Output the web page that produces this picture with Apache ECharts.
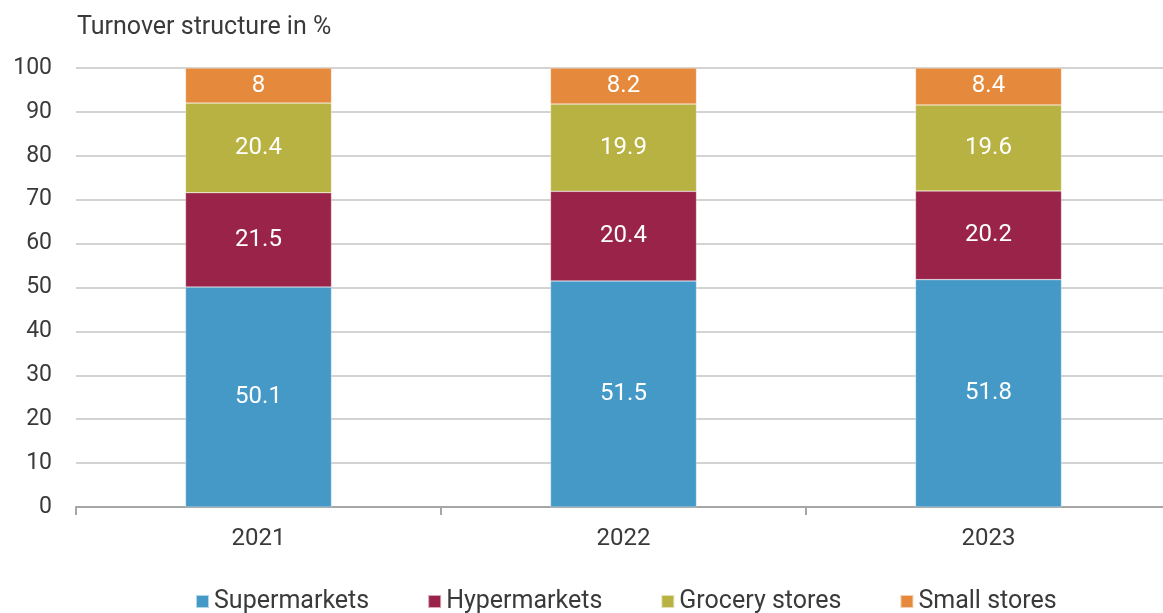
<!DOCTYPE html>
<html>
<head>
<meta charset="utf-8">
<script src="https://cdn.jsdelivr.net/npm/echarts@6/dist/echarts.min.js"></script>
<style>
  html, body { margin: 0; padding: 0; background: #fff; overflow: hidden; }
  #chart { width: 1171px; height: 613px; }
</style>
</head>
<body>
<div id="chart"></div>
<script>
const years = ['2021', '2022', '2023'];
const supermarkets = [50.1, 51.5, 51.8];
const hypermarkets = [21.5, 20.4, 20.2];
const groceryStores = [20.4, 19.9, 19.6];
const smallStores = [8, 8.2, 8.4];

const font = 'Roboto, sans-serif';
const chart = echarts.init(document.getElementById('chart'));

function barSeries(name, data, color) {
  return {
    name: name,
    type: 'bar',
    stack: 'total',
    barWidth: '40%',
    data: data,
    itemStyle: { color: color, borderColor: 'rgba(255,255,255,0.6)', borderWidth: 0.5 },
    label: {
      show: true,
      color: '#fff',
      fontFamily: font,
      fontSize: 24
    }
  };
}

chart.setOption({
  animation: false,
  textStyle: { fontFamily: font },
  title: {
    text: 'Turnover structure in %',
    left: 72,
    top: 10,
    textStyle: { fontFamily: font, fontSize: 25, fontWeight: 'normal', color: '#3a3a3a' }
  },
  legend: {
    bottom: -6,
    left: 190,
    itemWidth: 13,
    itemHeight: 13,
    itemGap: 58,
    icon: 'rect',
    textStyle: { fontFamily: font, fontSize: 25, color: '#3a3a3a' }
  },
  grid: { left: 76, right: 0, top: 68, bottom: 106 },
  xAxis: {
    type: 'category',
    data: years,
    axisLine: { lineStyle: { color: '#a6a6a6', width: 2 } },
    axisTick: { show: true, length: 8, lineStyle: { color: '#a6a6a6', width: 2 } },
    axisLabel: { fontFamily: font, fontSize: 24, color: '#3a3a3a', margin: 20 }
  },
  yAxis: {
    type: 'value',
    min: 0,
    max: 100,
    interval: 10,
    axisLine: { show: false },
    axisTick: { show: false },
    splitLine: { lineStyle: { color: '#c4c4c4', width: 1.5 } },
    axisLabel: { fontFamily: font, fontSize: 23, color: '#3a3a3a', margin: 24 }
  },
  series: [
    barSeries('Supermarkets', supermarkets, '#4599c7'),
    barSeries('Hypermarkets', hypermarkets, '#9a2449'),
    barSeries('Grocery stores', groceryStores, '#b8b243'),
    barSeries('Small stores', smallStores, '#e5893c')
  ]
});
</script>
</body>
</html>
